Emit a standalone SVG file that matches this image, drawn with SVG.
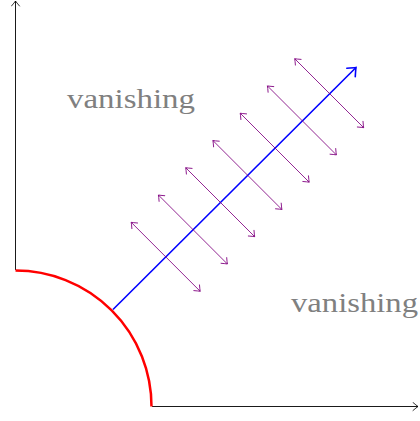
<svg xmlns="http://www.w3.org/2000/svg" width="420" height="421" viewBox="0 0 420 421">
<style>
.axis{stroke:#000;stroke-width:0.9;fill:none}
.pa{stroke:#800080;stroke-width:0.85;fill:none}
.lbl{font-family:"Liberation Serif","DejaVu Serif",serif;font-size:28px;fill:#808080}
</style>
<defs>
<marker id="to" viewBox="-6 -5 8 10" markerWidth="8" markerHeight="10" refX="0" refY="0" orient="auto-start-reverse" markerUnits="userSpaceOnUse">
<path d="M-5,-4 Q-1.5,-1 0,0 Q-1.5,1 -5,4" fill="none" stroke="#800080" stroke-width="0.85" stroke-linecap="round"/>
</marker>
<marker id="tok" viewBox="-6 -5 8 10" markerWidth="8" markerHeight="10" refX="0" refY="0" orient="auto" markerUnits="userSpaceOnUse">
<path d="M-5,-4 Q-1.5,-1 0,0 Q-1.5,1 -5,4" fill="none" stroke="#000" stroke-width="0.8" stroke-linecap="round"/>
</marker>
<marker id="tob" viewBox="-9 -7 11 14" markerWidth="11" markerHeight="14" refX="0" refY="0" orient="auto" markerUnits="userSpaceOnUse">
<path d="M-7,-6 Q-2,-1.5 0,0 Q-2,1.5 -7,6" fill="none" stroke="#0000ff" stroke-width="1.6" stroke-linecap="round"/>
</marker>
</defs>
<rect width="420" height="421" fill="#fff"/>
<g id="axes">
<path class="axis" d="M15.5,270 L15.5,1" marker-end="url(#tok)"/>
<path class="axis" d="M152,406.5 L418,406.5" marker-end="url(#tok)"/>
</g>
<g id="arc">
<path d="M15.5,270.5 A136,136 0 0 1 151.5,406.5" fill="none" stroke="#ff0000" stroke-width="2.5"/>
</g>
<g id="connectors">
<path d="M113,309.5 L356,67.5" stroke="#0000ff" stroke-width="1.6" fill="none" marker-end="url(#tob)"/>
<g id="purple" stroke="#800080">
<path class="pa" d="M131.2,222.3 L200.2,291.3" marker-start="url(#to)" marker-end="url(#to)"/>
<path class="pa" d="M158.4,195 L227.4,264" marker-start="url(#to)" marker-end="url(#to)"/>
<path class="pa" d="M185.7,167.7 L254.7,236.7" marker-start="url(#to)" marker-end="url(#to)"/>
<path class="pa" d="M212.9,140.5 L281.9,209.5" marker-start="url(#to)" marker-end="url(#to)"/>
<path class="pa" d="M240.2,113.2 L309.2,182.2" marker-start="url(#to)" marker-end="url(#to)"/>
<path class="pa" d="M267.4,85.9 L336.4,154.9" marker-start="url(#to)" marker-end="url(#to)"/>
<path class="pa" d="M294.7,58.7 L363.7,127.7" marker-start="url(#to)" marker-end="url(#to)"/>
</g>
</g>
<g id="label1"><text class="lbl" x="67" y="108" textLength="128" lengthAdjust="spacingAndGlyphs">vanishing</text></g>
<g id="label2"><text class="lbl" x="291" y="312" textLength="127" lengthAdjust="spacingAndGlyphs">vanishing</text></g>
</svg>
